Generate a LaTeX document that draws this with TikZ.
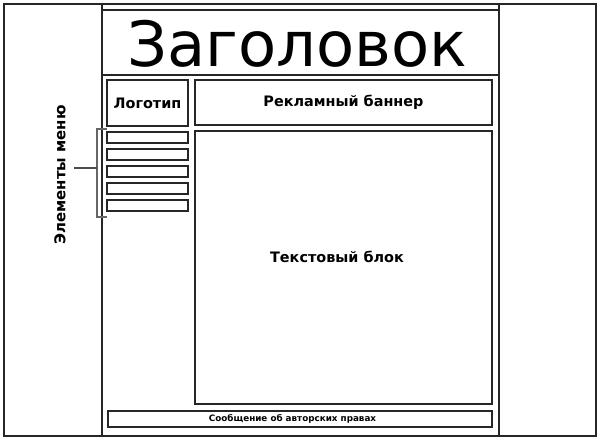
\documentclass[tikz,border=0pt]{standalone}
\usepackage{fontspec}
\setmainfont{DejaVu Sans}

\begin{document}
\begin{tikzpicture}[x=0.02cm,y=-0.02cm]
    \tikzstyle{frame}=[draw=black!85,line width=1.4pt]
    \tikzstyle{box}=[rectangle,draw=black!85,line width=1.4pt,inner sep=0pt,font=\bfseries\fontsize{8.2}{9}\selectfont]
    \tikzstyle{item}=[rectangle,draw=black!85,line width=1pt,inner sep=0pt,minimum width=1.62cm,minimum height=0.22cm]
    \useasboundingbox (0,0) rectangle (601,440);

    % page and centre column
    \draw[frame] (4,4) rectangle (596,436);
    \draw[frame] (102,4) -- (102,436);
    \draw[frame] (499,4) -- (499,436);

    \node (head)[box,minimum width=7.94cm,minimum height=1.3cm] at (300.5,42.5) {};
    \node (headtext)[font=\fontsize{35.5}{36}\selectfont] at (297,43.5) {Заголовок};
    \node (logo)[box,minimum width=1.62cm,minimum height=0.92cm] at (147.5,103) {Логотип};
    \node (ad)[box,minimum width=5.94cm,minimum height=0.9cm] at (343.5,102.5) {Рекламный баннер};
    \node (body)[box,minimum width=5.94cm,minimum height=5.46cm] at (343.5,267.5) {};
    \node (bodytext)[font=\bfseries\fontsize{8.2}{9}\selectfont] at (337,257) {Текстовый блок};
    \node (copy)[box,minimum width=7.68cm,minimum height=0.32cm,font=\bfseries\fontsize{5}{6}\selectfont] at (300,419) {\hspace*{-8.5pt}Сообщение об авторских правах};

    % menu items
    \foreach \i in {1,...,5} {
        \node (m\i)[item] at (147.5,{120.5+17*\i}) {};
    }
    \node[item,line width=1.6pt] at (m3) {};
    \node[item,line width=1.6pt] at (m4) {};

    % bracket
    \coordinate (bt) at (107,129);
    \coordinate (bb) at (107,217);
    \coordinate (bm) at (97,168);
    \coordinate (bl) at (74,168);
    \draw[black!60,line width=0.9pt] (bt) -- (97,129) -- (97,217) -- (bb);
    \draw[black!70,line width=0.6pt] (bl) -- (bm);
    \node (menu)[rotate=90,font=\bfseries\fontsize{8.5}{9}\selectfont] at (60,175) {Элементы меню};
\end{tikzpicture}
\end{document}
